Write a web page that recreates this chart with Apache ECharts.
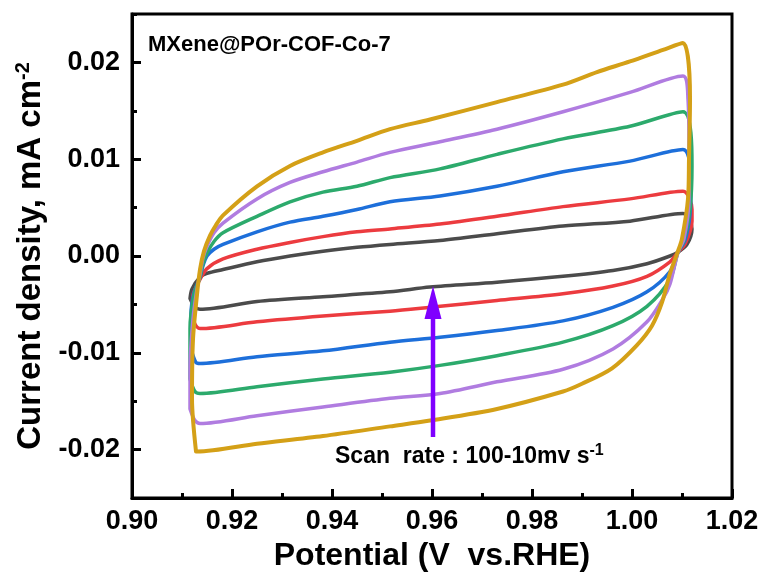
<!DOCTYPE html>
<html>
<head>
<meta charset="utf-8">
<script src="https://cdn.jsdelivr.net/npm/echarts@6/dist/echarts.min.js"></script>
<style>
html,body{margin:0;padding:0;background:#fff;}
#chart{width:766px;height:578px;}
</style>
</head>
<body>
<div id="chart"></div>
<script>
// ---- data (potential V vs RHE, current density mA cm^-2) ----
const xTicks = [0.90, 0.92, 0.94, 0.96, 0.98, 1.00, 1.02];
const yTicks = [-0.02, -0.01, 0.00, 0.01, 0.02];

const loopBlack = [[0.9116,-0.0044],[0.9120,-0.0034],[0.9136,-0.0022],[0.9150,-0.0018],[0.9182,-0.0014],[0.9250,-0.0006],[0.9316,0.0000],[0.9382,0.0005],[0.9450,0.0009],[0.9516,0.0012],[0.9616,0.0016],[0.9730,0.0023],[0.9862,0.0031],[0.9996,0.0036],[1.0102,0.0044],[1.0120,0.0028],[1.0110,0.0012],[1.0092,0.0004],[1.0076,0.0000],[1.0030,-0.0008],[0.9962,-0.0015],[0.9862,-0.0021],[0.9730,-0.0027],[0.9596,-0.0032],[0.9516,-0.0037],[0.9382,-0.0042],[0.9250,-0.0047],[0.9136,-0.0055],[0.9126,-0.0053],[0.9116,-0.0044]];

const loopRed = [[0.9120,-0.0055],[0.9122,-0.0040],[0.9130,-0.0030],[0.9136,-0.0024],[0.9150,-0.0013],[0.9182,-0.0003],[0.9250,0.0007],[0.9316,0.0014],[0.9382,0.0020],[0.9450,0.0025],[0.9516,0.0028],[0.9616,0.0033],[0.9730,0.0041],[0.9862,0.0051],[0.9996,0.0059],[1.0102,0.0067],[1.0120,0.0048],[1.0120,0.0036],[1.0106,0.0012],[1.0092,0.0004],[1.0076,-0.0006],[1.0030,-0.0021],[0.9962,-0.0031],[0.9862,-0.0039],[0.9730,-0.0046],[0.9596,-0.0053],[0.9516,-0.0057],[0.9382,-0.0062],[0.9250,-0.0068],[0.9136,-0.0075],[0.9124,-0.0068],[0.9120,-0.0055]];

const loopBlue = [[0.9118,-0.0096],[0.9118,-0.0060],[0.9124,-0.0038],[0.9136,-0.0022],[0.9142,-0.0010],[0.9150,0.0000],[0.9164,0.0007],[0.9182,0.0012],[0.9250,0.0025],[0.9316,0.0035],[0.9382,0.0041],[0.9450,0.0048],[0.9516,0.0056],[0.9616,0.0062],[0.9730,0.0072],[0.9862,0.0087],[0.9996,0.0098],[1.0102,0.0110],[1.0118,0.0076],[1.0116,0.0043],[1.0106,0.0016],[1.0092,0.0004],[1.0076,-0.0016],[1.0030,-0.0037],[0.9962,-0.0053],[0.9862,-0.0067],[0.9730,-0.0077],[0.9616,-0.0084],[0.9516,-0.0089],[0.9382,-0.0098],[0.9250,-0.0104],[0.9136,-0.0111],[0.9128,-0.0110],[0.9118,-0.0096]];

const loopGreen = [[0.9116,-0.0127],[0.9116,-0.0075],[0.9124,-0.0040],[0.9136,-0.0022],[0.9142,-0.0008],[0.9150,0.0003],[0.9164,0.0015],[0.9182,0.0024],[0.9250,0.0041],[0.9316,0.0056],[0.9382,0.0066],[0.9450,0.0072],[0.9516,0.0081],[0.9616,0.0090],[0.9730,0.0105],[0.9862,0.0121],[0.9996,0.0134],[1.0102,0.0149],[1.0120,0.0093],[1.0116,0.0048],[1.0104,0.0016],[1.0092,0.0004],[1.0076,-0.0024],[1.0030,-0.0052],[0.9962,-0.0072],[0.9862,-0.0089],[0.9730,-0.0103],[0.9616,-0.0113],[0.9516,-0.0120],[0.9382,-0.0127],[0.9250,-0.0135],[0.9136,-0.0142],[0.9126,-0.0140],[0.9116,-0.0127]];

const loopPurple = [[0.9116,-0.0158],[0.9116,-0.0117],[0.9122,-0.0065],[0.9130,-0.0034],[0.9136,-0.0019],[0.9142,-0.0002],[0.9150,0.0010],[0.9164,0.0024],[0.9182,0.0034],[0.9250,0.0059],[0.9316,0.0076],[0.9382,0.0087],[0.9450,0.0097],[0.9516,0.0107],[0.9616,0.0118],[0.9730,0.0131],[0.9862,0.0149],[0.9996,0.0169],[1.0102,0.0186],[1.0112,0.0162],[1.0114,0.0110],[1.0114,0.0059],[1.0104,0.0018],[1.0092,0.0004],[1.0076,-0.0029],[1.0062,-0.0044],[1.0030,-0.0068],[0.9962,-0.0096],[0.9862,-0.0117],[0.9730,-0.0130],[0.9616,-0.0142],[0.9516,-0.0147],[0.9382,-0.0156],[0.9250,-0.0165],[0.9136,-0.0173],[0.9126,-0.0170],[0.9116,-0.0158]];

const loopGold = [[0.9128,-0.0202],[0.9120,-0.0147],[0.9122,-0.0086],[0.9130,-0.0040],[0.9136,-0.0014],[0.9144,0.0005],[0.9156,0.0021],[0.9168,0.0032],[0.9182,0.0042],[0.9250,0.0072],[0.9316,0.0093],[0.9382,0.0107],[0.9450,0.0119],[0.9516,0.0131],[0.9596,0.0141],[0.9730,0.0159],[0.9862,0.0177],[0.9930,0.0190],[0.9996,0.0201],[1.0062,0.0213],[1.0102,0.0220],[1.0116,0.0162],[1.0114,0.0100],[1.0112,0.0059],[1.0100,0.0018],[1.0092,0.0005],[1.0076,-0.0018],[1.0060,-0.0048],[1.0040,-0.0072],[1.0010,-0.0092],[0.9960,-0.0116],[0.9900,-0.0132],[0.9862,-0.0140],[0.9730,-0.0158],[0.9596,-0.0170],[0.9516,-0.0176],[0.9382,-0.0186],[0.9250,-0.0194],[0.9130,-0.0202],[0.9128,-0.0202]];

const arrowFrom = [0.9602, -0.0187];
const arrowTo = [0.9602, -0.0031];
const arrowHeadBase = -0.0065;

const loops = [
  {name: 'Black', data: loopBlack, color: '#4b4b4b', width: 3.5},
  {name: 'Red', data: loopRed, color: '#ec3b3f', width: 3.5},
  {name: 'Blue', data: loopBlue, color: '#1d6fda', width: 3.5},
  {name: 'Green', data: loopGreen, color: '#2caa6c', width: 3.5},
  {name: 'Purple', data: loopPurple, color: '#b07ce0', width: 3.5},
  {name: 'Gold', data: loopGold, color: '#d4a017', width: 4}
];

const FONT = '"Liberation Sans", Arial, sans-serif';
const chart = echarts.init(document.getElementById('chart'), null, {renderer: 'canvas'});

const option = {
  animation: false,
  backgroundColor: '#fff',
  grid: {left: 132, right: 34, top: 14, bottom: 80, show: true, borderColor: '#000', borderWidth: 3, backgroundColor: 'transparent'},
  xAxis: {
    type: 'value', min: 0.90, max: 1.02, interval: 0.02,
    name: 'Potential (V  vs.RHE)', nameLocation: 'middle', nameGap: 36,
    nameTextStyle: {fontFamily: FONT, fontWeight: 'bold', fontSize: 32, color: '#000'},
    axisLine: {show: true, onZero: false, lineStyle: {color: '#000', width: 3}},
    axisTick: {show: true, inside: true, length: 9, lineStyle: {color: '#000', width: 3}},
    minorTick: {show: true, splitNumber: 2, length: 5, lineStyle: {color: '#000', width: 3}},
    splitLine: {show: false},
    axisLabel: {margin: 10, fontFamily: FONT, fontWeight: 'bold', fontSize: 27, color: '#000',
      formatter: v => v.toFixed(2)}
  },
  yAxis: [{
    type: 'value', min: -0.025, max: 0.025, interval: 0.005, position: 'left',
    axisLine: {show: true, onZero: false, lineStyle: {color: '#000', width: 3}},
    axisTick: {show: true, inside: true, length: 5, lineStyle: {color: '#000', width: 3}},
    axisLabel: {show: false},
    splitLine: {show: false}
  }, {
    type: 'value', min: -0.025, max: 0.025, position: 'left', offset: 0,
    name: 'Current density, mA cm{sup|-2}', nameLocation: 'middle', nameGap: 79, nameRotate: 90,
    nameTextStyle: {fontFamily: FONT, fontWeight: 'bold', fontSize: 33, color: '#000',
      rich: {sup: {fontFamily: FONT, fontWeight: 'bold', fontSize: 20, color: '#000', verticalAlign: 'top', padding: [0,0,15,0]}}},
    axisLine: {show: false},
    axisTick: {show: true, inside: true, length: 9, customValues: yTicks, lineStyle: {color: '#000', width: 3}},
    axisLabel: {show: true, margin: 12, customValues: yTicks, fontFamily: FONT, fontWeight: 'bold', fontSize: 27, color: '#000',
      formatter: v => v.toFixed(2)},
    splitLine: {show: false}
  }],
  series: loops.map(l => ({
    name: l.name, type: 'line', data: l.data, xAxisIndex: 0, yAxisIndex: 0,
    showSymbol: false, smooth: 0.3, clip: false,
    lineStyle: {color: l.color, width: l.width, join: 'round', cap: 'round'}
  }))
};
chart.setOption(option);

// annotations placed through the chart's own coordinate conversion
const pFrom = chart.convertToPixel({xAxisIndex: 0, yAxisIndex: 0}, arrowFrom);
const pTo = chart.convertToPixel({xAxisIndex: 0, yAxisIndex: 0}, arrowTo);
const pBase = chart.convertToPixel({xAxisIndex: 0, yAxisIndex: 0}, [arrowTo[0], arrowHeadBase]);
chart.setOption({
  graphic: [
    {type: 'line', shape: {x1: pFrom[0], y1: pFrom[1], x2: pBase[0], y2: pBase[1]},
      style: {stroke: '#7f00ff', lineWidth: 4.5}, z: 100},
    {type: 'polygon', shape: {points: [[pTo[0], pTo[1]], [pBase[0] - 8.5, pBase[1]], [pBase[0] + 8.5, pBase[1]]]},
      style: {fill: '#7f00ff'}, z: 100},
    {type: 'text', left: 148, top: 34, z: 100,
      style: {text: 'MXene@POr-COF-Co-7', fontFamily: FONT, fontWeight: 'bold', fontSize: 22, fill: '#000'}},
    {type: 'text', left: 335, top: 443, z: 100,
      style: {text: 'Scan  rate : 100-10mv s{sup|-1}', fontFamily: FONT, fontWeight: 'bold', fontSize: 23, fill: '#000',
        rich: {sup: {fontFamily: FONT, fontWeight: 'bold', fontSize: 16, fill: '#000', verticalAlign: 'top', padding: [0,0,12,0]}}}}
  ]
});
</script>
</body>
</html>
